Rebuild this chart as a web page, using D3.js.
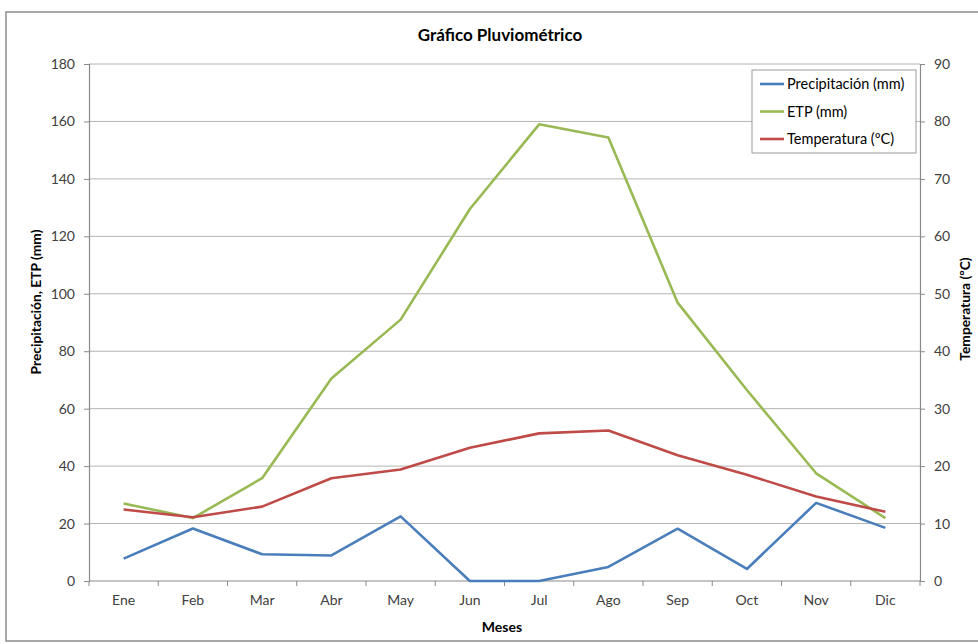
<!DOCTYPE html>
<html>
<head>
<meta charset="utf-8">
<script src="https://cdn.jsdelivr.net/npm/d3@7"></script>
<style>
  html, body { margin: 0; padding: 0; background: #ffffff; }
  svg { display: block; font-family: Lato, "Open Sans", sans-serif; }
</style>
</head>
<body>
<svg id="chart" width="978" height="644"></svg>
<script>
// Monthly climate data
const months = ["Ene", "Feb", "Mar", "Abr", "May", "Jun", "Jul", "Ago", "Sep", "Oct", "Nov", "Dic"];
const precipitacion = [7.8, 18.3, 9.3, 8.9, 22.5, 0, 0, 4.9, 18.2, 4.2, 27.2, 18.5];
const etp = [27.0, 21.9, 35.8, 70.5, 91.0, 129.5, 159.0, 154.4, 96.9, 66.5, 37.5, 21.9];
const temperatura = [12.45, 11.1, 12.95, 17.9, 19.4, 23.2, 25.7, 26.2, 21.9, 18.5, 14.7, 12.05];
const leftTicks = [0, 20, 40, 60, 80, 100, 120, 140, 160, 180];
const rightTicks = [0, 10, 20, 30, 40, 50, 60, 70, 80, 90];

const svg = d3.select("#chart");
const plot = { left: 89, right: 920, top: 64, bottom: 581 };

// outer chart frame
svg.append("rect")
  .attr("x", 6).attr("y", 12).attr("width", 985).attr("height", 629)
  .attr("fill", "#ffffff").attr("stroke", "#8c8c8c").attr("stroke-width", 1.5);

const x = d3.scaleBand().domain(months).range([plot.left, plot.right]).padding(0);
const yL = d3.scaleLinear().domain([0, 180]).range([plot.bottom, plot.top]);
const yR = d3.scaleLinear().domain([0, 90]).range([plot.bottom, plot.top]);

// horizontal gridlines
svg.append("g").selectAll("line").data(leftTicks.filter(d => d > 0)).join("line")
  .attr("x1", plot.left).attr("x2", plot.right)
  .attr("y1", d => yL(d)).attr("y2", d => yL(d))
  .attr("stroke", "#b4b4b4").attr("stroke-width", 1);

const axisColor = "#8a8a8a";
const labelColor = "#404040";

// left axis
const gL = svg.append("g").attr("transform", `translate(${plot.left},0)`)
  .call(d3.axisLeft(yL).tickValues(leftTicks).tickSize(5).tickPadding(9));
// right axis
const gR = svg.append("g").attr("transform", `translate(${plot.right},0)`)
  .call(d3.axisRight(yR).tickValues(rightTicks).tickSize(5).tickPadding(9));
// bottom axis: ticks at category boundaries
const gB = svg.append("g").attr("transform", `translate(0,${plot.bottom})`)
  .call(d3.axisBottom(x).tickSize(0).tickPadding(14));
gB.selectAll(".boundary").data(d3.range(months.length + 1)).join("line")
  .attr("class", "boundary")
  .attr("x1", i => plot.left + i * x.bandwidth())
  .attr("x2", i => plot.left + i * x.bandwidth())
  .attr("y1", 0).attr("y2", 5)
  .attr("stroke", axisColor);

[gL, gR, gB].forEach(g => {
  g.select(".domain").attr("stroke", axisColor).attr("stroke-width", 1.2);
  g.selectAll(".tick line").attr("stroke", axisColor);
  g.selectAll(".tick text").attr("fill", labelColor)
    .style("font-family", "Lato, 'Open Sans', sans-serif").style("font-size", "14px");
});
gB.select(".domain").attr("d", `M${plot.left},0H${plot.right}`);

// series lines
const series = [
  { name: "Precipitación (mm)", values: precipitacion, scale: yL, color: "#4a7ebb" },
  { name: "ETP (mm)", values: etp, scale: yL, color: "#98b954" },
  { name: "Temperatura (ºC)", values: temperatura, scale: yR, color: "#be4b48" }
];
const drawOrder = [1, 2, 0];
drawOrder.forEach(i => {
  const s = series[i];
  const line = d3.line()
    .x((d, j) => x(months[j]) + x.bandwidth() / 2)
    .y(d => s.scale(d));
  svg.append("path").datum(s.values)
    .attr("d", line)
    .attr("fill", "none")
    .attr("stroke", s.color)
    .attr("stroke-width", 2.6)
    .attr("stroke-linejoin", "round");
});

// title
svg.append("text").attr("x", 500).attr("y", 41)
  .attr("text-anchor", "middle").attr("fill", "#000")
  .style("font-size", "17px").style("font-weight", "bold")
  .text("Gráfico Pluviométrico");

// axis titles
svg.append("text").attr("transform", "translate(41,302) rotate(-90)")
  .attr("text-anchor", "middle").attr("fill", "#000")
  .style("font-size", "13.8px").style("font-weight", "bold")
  .text("Precipitación, ETP (mm)");
svg.append("text").attr("transform", "translate(970,309) rotate(-90)")
  .attr("text-anchor", "middle").attr("fill", "#000")
  .style("font-size", "13.8px").style("font-weight", "bold")
  .text("Temperatura (ºC)");
svg.append("text").attr("x", 502).attr("y", 632)
  .attr("text-anchor", "middle").attr("fill", "#000")
  .style("font-size", "14px").style("font-weight", "bold")
  .text("Meses");

// legend
const legend = svg.append("g").attr("transform", "translate(752,70)");
legend.append("rect").attr("x", 0).attr("y", 0).attr("width", 164).attr("height", 83)
  .attr("fill", "#ffffff").attr("stroke", "#9a9a9a").attr("stroke-width", 1);
series.forEach((s, i) => {
  const yy = 14 + i * 27.5;
  legend.append("line").attr("x1", 8).attr("x2", 32).attr("y1", yy).attr("y2", yy)
    .attr("stroke", s.color).attr("stroke-width", 2.6);
  legend.append("text").attr("x", 35).attr("y", yy + 5)
    .attr("fill", "#000").style("font-size", "14.5px")
    .text(s.name);
});
</script>
</body>
</html>
